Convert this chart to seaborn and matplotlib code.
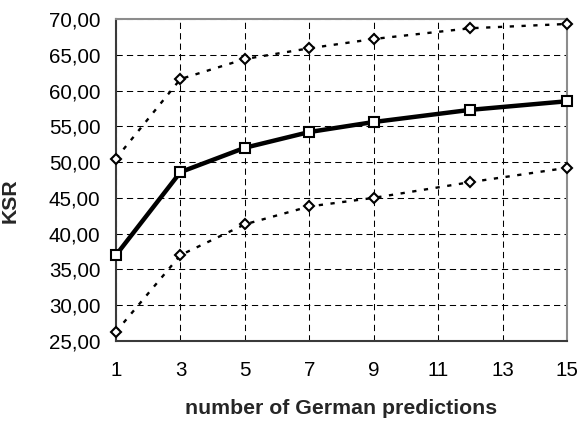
import matplotlib
matplotlib.use("Agg")
import matplotlib.pyplot as plt
import matplotlib.ticker as mticker
import seaborn as sns
import pandas as pd

# Number of German predictions offered and the resulting KSR
predictions = [1, 3, 5, 7, 9, 12, 15]
ksr_mean = [37.0, 48.6, 52.0, 54.2, 55.6, 57.3, 58.5]
ksr_upper = [50.5, 61.6, 64.4, 65.9, 67.2, 68.7, 69.3]
ksr_lower = [26.3, 37.0, 41.3, 43.8, 45.0, 47.2, 49.2]

x_ticks = [1, 3, 5, 7, 9, 11, 13, 15]
y_ticks = [25, 30, 35, 40, 45, 50, 55, 60, 65, 70]

sns.set_theme(style="white")
plt.rcParams["font.family"] = ["Liberation Sans", "DejaVu Sans"]

df = pd.DataFrame({
    "n": predictions * 3,
    "ksr": ksr_upper + ksr_mean + ksr_lower,
    "series": ["upper"] * 7 + ["mean"] * 7 + ["lower"] * 7,
})

fig = plt.figure(figsize=(5.8, 4.21), dpi=100)
ax = fig.add_axes([0.2, 0.19, 0.7776, 0.765])

dotted = (0, (1.8, 3.2))
for name, style, marker, ms, lw, z in [
    ("upper", dotted, "D", 5.2, 1.7, 3),
    ("lower", dotted, "D", 5.2, 1.7, 3),
    ("mean", "-", "s", 7.0, 3.2, 4),
]:
    sub = df[df["series"] == name]
    sns.lineplot(data=sub, x="n", y="ksr", ax=ax, color="black",
                 linestyle=style, linewidth=lw, marker=marker,
                 markersize=ms, markerfacecolor="white",
                 markeredgecolor="black", markeredgewidth=1.5,
                 zorder=z, legend=False, clip_on=False)

ax.set_xlim(1, 15)
ax.set_ylim(25, 70)
ax.set_xticks(x_ticks)
ax.set_yticks(y_ticks)
ax.yaxis.set_major_formatter(
    mticker.FuncFormatter(lambda v, _: f"{v:.2f}".replace(".", ",")))

ax.grid(True, color="black", linestyle=(0, (6, 4)), linewidth=0.75)
ax.set_axisbelow(True)

for side in ["left", "bottom"]:
    ax.spines[side].set_color("#3a3a3a")
    ax.spines[side].set_linewidth(1.5)
for side in ["top", "right"]:
    ax.spines[side].set_color("#8c8c8c")
    ax.spines[side].set_linewidth(1.5)

ax.tick_params(axis="both", direction="inout", length=8.5, width=1.0,
               color="#3a3a3a", labelsize=14.8, labelcolor="black")
ax.tick_params(axis="y", pad=7)
ax.tick_params(axis="x", pad=10)

ax.set_xlabel("number of German predictions", fontsize=15.3,
              fontweight="bold", labelpad=14)
ax.set_ylabel("KSR", fontsize=15.3, fontweight="bold")
ax.yaxis.set_label_coords(-0.213, 0.435)

fig.savefig("out.png", dpi=100)
